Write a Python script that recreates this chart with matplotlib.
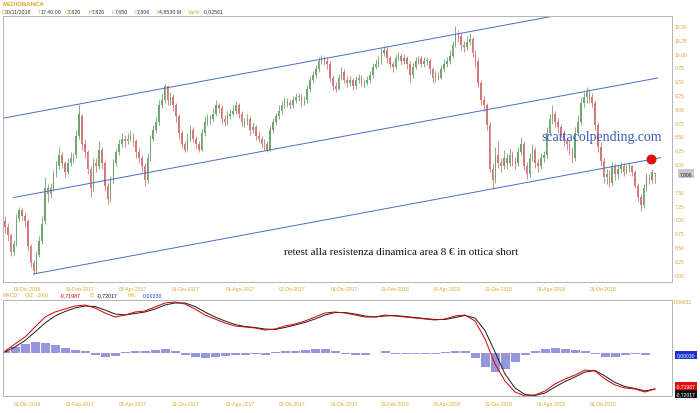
import matplotlib
matplotlib.use("Agg")
import matplotlib.pyplot as plt
import numpy as np

# candles (roughly one every 2-3 sessions), Mediobanca Nov 2016 - Nov 2018
opens = [6.95, 6.85, 6.70, 6.40, 6.55, 7.00, 7.15, 7.05, 6.95, 6.50,
         6.20, 6.05, 6.35, 6.60, 6.95, 7.55, 7.45, 7.55, 7.80,
         7.95, 8.15, 8.00, 7.85, 8.00, 8.10, 8.15, 8.50, 8.85,
         8.35, 8.20, 7.90, 7.55, 8.00, 7.95, 8.25, 8.00, 7.60, 7.35,
         7.70, 8.00, 8.20, 8.35, 8.45, 8.40, 8.45, 8.50, 8.40, 8.20,
         8.10, 7.95, 7.70, 8.10, 8.45, 8.60, 8.75, 9.05, 9.15, 9.40,
         9.15, 9.20, 9.05, 8.85, 8.55, 8.35, 8.25, 8.45, 8.60, 8.45,
         8.35, 8.25, 8.55, 8.75, 8.80, 8.80, 8.90, 9.05, 9.00, 8.80, 8.75,
         8.85, 8.90, 8.95, 9.05, 8.90, 8.75, 8.75, 8.80, 8.60, 8.65, 8.50,
         8.45, 8.35, 8.35, 8.25, 8.60, 8.75, 8.85, 8.95, 9.05, 9.10,
         9.10, 9.05, 9.15, 9.20, 9.20, 9.10, 9.15, 9.35, 9.50, 9.60, 9.70,
         9.85, 9.90, 9.85, 9.80, 9.55, 9.40, 9.35, 9.55, 9.65, 9.50,
         9.45, 9.50, 9.40, 9.50, 9.55, 9.45, 9.45, 9.50, 9.60, 9.75, 9.80,
         9.85, 10.00, 10.05, 9.90, 9.80, 9.75, 9.90, 9.95, 9.85, 9.90,
         9.80, 9.60, 9.75, 9.85, 9.90, 9.80, 9.85, 9.85, 9.70, 9.55,
         9.60, 9.55, 9.70, 9.80, 9.85, 9.95, 10.15, 10.35, 10.30, 10.15,
         10.10, 10.20, 10.25, 10.00, 9.85, 9.45, 9.15, 9.05, 8.70, 7.90,
         7.70, 8.15, 8.00, 7.95, 8.10, 8.00, 8.15, 8.05, 8.00, 8.20,
         8.35, 7.95, 7.80, 8.10, 8.25, 8.00, 7.95, 8.10, 8.15, 8.55,
         8.80, 8.90, 8.75, 8.65, 8.55, 8.40, 8.35, 8.25, 8.10, 8.55,
         8.75, 9.10, 9.20, 9.30, 9.20, 9.10, 8.70, 8.30, 8.05, 7.75,
         7.80, 7.65, 7.95, 7.80, 7.90, 7.95, 7.85, 7.90, 7.95, 7.85,
         7.60, 7.40, 7.25, 7.55, 7.75, 7.70, 7.82]
highs = [7.05, 6.92, 6.75, 6.62, 7.08, 7.22, 7.20, 7.12, 7.00, 6.55,
         6.25, 6.42, 6.68, 7.05, 7.75, 7.62, 7.65, 7.88, 8.05,
         8.30, 8.20, 8.05, 8.10, 8.20, 8.18, 8.60, 9.06, 8.90,
         8.45, 8.25, 7.95, 8.10, 8.10, 8.40, 8.30, 8.05, 7.65, 7.78,
         8.08, 8.28, 8.45, 8.55, 8.52, 8.55, 8.58, 8.55, 8.45, 8.28,
         8.15, 8.00, 8.18, 8.52, 8.70, 8.85, 9.15, 9.25, 9.44, 9.42,
         9.30, 9.25, 9.10, 8.90, 8.60, 8.40, 8.55, 8.70, 8.65, 8.50,
         8.40, 8.62, 8.85, 8.90, 8.88, 9.00, 9.15, 9.10, 9.05, 8.88, 8.95,
         8.98, 9.05, 9.12, 9.10, 8.95, 8.82, 8.90, 8.85, 8.75, 8.70, 8.58,
         8.50, 8.45, 8.40, 8.68, 8.82, 8.92, 9.05, 9.12, 9.20, 9.18,
         9.15, 9.22, 9.28, 9.27, 9.25, 9.22, 9.42, 9.58, 9.68, 9.78, 9.92,
         9.96, 9.95, 9.92, 9.85, 9.60, 9.48, 9.62, 9.75, 9.70, 9.58,
         9.58, 9.55, 9.58, 9.62, 9.60, 9.52, 9.58, 9.68, 9.82, 9.88, 9.95,
         10.08, 10.12, 10.10, 9.95, 9.85, 9.98, 10.02, 10.00, 9.98, 9.95,
         9.85, 9.82, 9.92, 9.95, 9.95, 9.92, 9.92, 9.90, 9.75, 9.68,
         9.65, 9.78, 9.88, 9.92, 10.05, 10.22, 10.48, 10.42, 10.35, 10.22,
         10.30, 10.35, 10.28, 10.05, 9.90, 9.50, 9.22, 9.10, 8.75, 8.00,
         8.30, 8.40, 8.10, 8.25, 8.18, 8.28, 8.22, 8.12, 8.30, 8.48,
         8.40, 8.02, 8.18, 8.35, 8.30, 8.08, 8.18, 8.22, 8.65, 8.90,
         9.05, 8.95, 8.82, 8.72, 8.60, 8.48, 8.42, 8.30, 8.65, 8.88,
         9.20, 9.30, 9.38, 9.35, 9.28, 9.15, 8.75, 8.38, 8.10, 7.90,
         7.88, 8.02, 8.00, 7.98, 8.02, 8.00, 7.98, 8.00, 7.98, 7.88,
         7.65, 7.45, 7.62, 7.82, 7.80, 7.90, 7.826]
lows = [6.75, 6.60, 6.32, 6.35, 6.50, 6.95, 6.98, 6.85, 6.42, 6.12,
        6.00, 6.02, 6.30, 6.55, 6.90, 7.30, 7.38, 7.50, 7.75,
        7.90, 7.92, 7.75, 7.80, 7.95, 8.00, 8.10, 8.45, 8.25,
        8.10, 7.80, 7.40, 7.50, 7.85, 7.90, 7.90, 7.50, 7.27, 7.30,
        7.65, 7.95, 8.15, 8.30, 8.30, 8.35, 8.40, 8.32, 8.10, 8.00,
        7.85, 7.60, 7.65, 8.05, 8.40, 8.55, 8.70, 9.00, 9.10, 9.05,
        9.05, 8.95, 8.75, 8.45, 8.28, 8.20, 8.22, 8.40, 8.38, 8.28,
        8.20, 8.22, 8.50, 8.70, 8.72, 8.75, 8.85, 8.92, 8.72, 8.68, 8.70,
        8.80, 8.85, 8.90, 8.82, 8.68, 8.66, 8.70, 8.52, 8.55, 8.42, 8.38,
        8.28, 8.25, 8.20, 8.22, 8.55, 8.70, 8.80, 8.90, 9.00, 9.02,
        8.98, 9.00, 9.10, 9.12, 9.02, 9.05, 9.10, 9.30, 9.45, 9.55, 9.65,
        9.80, 9.78, 9.70, 9.48, 9.32, 9.30, 9.32, 9.50, 9.45, 9.38,
        9.40, 9.32, 9.35, 9.45, 9.40, 9.38, 9.42, 9.45, 9.55, 9.70, 9.75,
        9.80, 9.95, 9.82, 9.72, 9.65, 9.70, 9.85, 9.78, 9.80, 9.70,
        9.45, 9.55, 9.70, 9.80, 9.75, 9.75, 9.78, 9.62, 9.45, 9.48,
        9.50, 9.52, 9.65, 9.75, 9.80, 9.90, 10.10, 10.20, 10.05, 10.02,
        10.05, 10.15, 9.92, 9.75, 9.38, 9.05, 8.95, 8.60, 7.85, 7.54,
        7.65, 7.92, 7.85, 7.90, 7.90, 7.95, 7.95, 7.90, 7.95, 8.15,
        7.88, 7.72, 7.75, 8.05, 7.92, 7.85, 7.90, 8.02, 8.10, 8.50,
        8.72, 8.65, 8.55, 8.48, 8.32, 8.25, 8.15, 8.00, 8.05, 8.50,
        8.70, 9.02, 9.10, 9.10, 9.02, 8.60, 8.20, 7.95, 7.65, 7.62,
        7.58, 7.60, 7.70, 7.72, 7.82, 7.78, 7.80, 7.85, 7.78, 7.55,
        7.32, 7.14, 7.20, 7.50, 7.62, 7.65, 7.65]
closes = [6.85, 6.70, 6.40, 6.55, 7.00, 7.15, 7.05, 6.95, 6.50, 6.20,
          6.05, 6.35, 6.60, 6.90, 7.55, 7.45, 7.55, 7.80, 7.95,
          8.15, 8.00, 7.85, 8.00, 8.10, 8.10, 8.50, 8.90, 8.35,
          8.20, 7.90, 7.55, 8.00, 7.95, 8.25, 8.00, 7.60, 7.35, 7.70,
          8.00, 8.20, 8.35, 8.45, 8.40, 8.45, 8.50, 8.40, 8.20, 8.10,
          7.95, 7.70, 8.10, 8.45, 8.60, 8.75, 9.05, 9.15, 9.40, 9.15,
          9.20, 9.05, 8.85, 8.55, 8.35, 8.25, 8.45, 8.60, 8.45, 8.35,
          8.25, 8.55, 8.75, 8.80, 8.80, 8.90, 9.05, 9.00, 8.80, 8.75, 8.85,
          8.90, 8.95, 9.05, 8.90, 8.75, 8.75, 8.80, 8.60, 8.65, 8.50, 8.45,
          8.35, 8.35, 8.25, 8.60, 8.75, 8.85, 8.95, 9.05, 9.10, 9.10,
          9.05, 9.15, 9.20, 9.20, 9.10, 9.15, 9.35, 9.50, 9.60, 9.70, 9.85,
          9.90, 9.85, 9.80, 9.55, 9.40, 9.35, 9.55, 9.65, 9.50, 9.45,
          9.50, 9.40, 9.50, 9.55, 9.45, 9.45, 9.50, 9.60, 9.75, 9.80, 9.85,
          10.00, 10.05, 9.90, 9.80, 9.75, 9.90, 9.95, 9.85, 9.90, 9.80,
          9.60, 9.75, 9.85, 9.90, 9.80, 9.85, 9.85, 9.70, 9.55, 9.60,
          9.55, 9.70, 9.80, 9.85, 9.95, 10.15, 10.35, 10.30, 10.15, 10.10,
          10.20, 10.25, 10.00, 9.85, 9.45, 9.15, 9.05, 8.70, 7.90, 7.70,
          8.15, 8.00, 7.95, 8.10, 8.00, 8.15, 8.05, 8.00, 8.20, 8.35,
          7.95, 7.80, 8.10, 8.25, 8.00, 7.95, 8.10, 8.15, 8.55, 8.80,
          8.90, 8.75, 8.65, 8.55, 8.40, 8.35, 8.25, 8.10, 8.55, 8.75,
          9.10, 9.20, 9.30, 9.20, 9.10, 8.70, 8.30, 8.05, 7.75, 7.80,
          7.65, 7.95, 7.80, 7.90, 7.95, 7.85, 7.90, 7.95, 7.85, 7.60,
          7.40, 7.25, 7.55, 7.75, 7.70, 7.85, 7.806]

# MACD (32, 200), sampled evenly across the same period
macd = [0.04, 0.18, 0.32, 0.52, 0.72, 0.82, 0.88, 0.94, 0.96, 0.90,
        0.80, 0.72, 0.76, 0.82, 0.84, 0.92, 1.00, 1.02, 0.98, 0.88,
        0.76, 0.68, 0.60, 0.54, 0.52, 0.50, 0.46, 0.48, 0.54, 0.58,
        0.64, 0.72, 0.80, 0.82, 0.80, 0.76, 0.72, 0.72, 0.76, 0.74,
        0.72, 0.70, 0.68, 0.66, 0.68, 0.74, 0.76, 0.64, 0.28, -0.22,
        -0.56, -0.78, -0.86, -0.84, -0.76, -0.62, -0.52, -0.44, -0.34, -0.36,
        -0.52, -0.64, -0.70, -0.72, -0.78, -0.72]
signal = [0.02, 0.12, 0.25, 0.42, 0.60, 0.74, 0.83, 0.90, 0.94, 0.93,
          0.86, 0.78, 0.76, 0.79, 0.82, 0.88, 0.96, 1.00, 1.00, 0.93,
          0.82, 0.72, 0.64, 0.57, 0.53, 0.51, 0.48, 0.47, 0.51, 0.56,
          0.61, 0.68, 0.76, 0.81, 0.81, 0.78, 0.74, 0.72, 0.74, 0.75,
          0.73, 0.71, 0.69, 0.67, 0.67, 0.71, 0.75, 0.70, 0.45, 0.02,
          -0.42, -0.70, -0.83, -0.85, -0.80, -0.68, -0.57, -0.48, -0.38, -0.35,
          -0.46, -0.59, -0.67, -0.71, -0.76, -0.72]
hist = [0.002, 0.008, 0.012, 0.014, 0.013, 0.010, 0.006, 0.004, 0.002, -0.003,
        -0.005, -0.004, 0.001, 0.003, 0.002, 0.004, 0.005, 0.003, -0.002, -0.005,
        -0.006, -0.005, -0.004, -0.003, -0.002, -0.001, -0.002, 0.001, 0.003, 0.003,
        0.004, 0.005, 0.005, 0.002, -0.001, -0.002, -0.002, 0.000, 0.002, -0.001,
        -0.001, -0.001, -0.001, -0.001, 0.001, 0.003, 0.002, -0.006, -0.018, -0.024,
        -0.020, -0.012, -0.003, 0.002, 0.005, 0.006, 0.005, 0.004, 0.003, -0.001,
        -0.005, -0.005, -0.003, -0.001, -0.002, 0.0003]

date_labels = ['01-Dic-2016', '01-Feb-2017', '03-Apr-2017', '01-Giu-2017',
               '01-Ago-2017', '02-Ott-2017', '01-Dic-2017', '01-Feb-2018',
               '03-Apr-2018', '01-Giu-2018', '01-Ago-2018', '01-Ott-2018']
date_pos = [7.7, 26.3, 44.9, 63.5, 82.4, 100.7, 118.9, 136.8, 155.0, 173.3, 191.5, 209.8]

# trend channel: anchor candles and prices
chan_lower = ([10, 230], [6.00, 8.104])
chan_middle = ([3, 229], [7.383, 9.545])
chan_upper = ([-1, 193], [8.815, 10.67])
dot = (226.6, 8.072)

W, H = 700, 414
GOLD = '#d9a62e'
GRID = '#b4b4b4'
UI = ['Liberation Sans', 'DejaVu Sans']
SERIF = ['Liberation Serif', 'DejaVu Serif']


def fx(x):
    return x / W


def fy(y):
    return 1 - y / H


o = np.array(opens)
h = np.array(highs)
l = np.array(lows)
c = np.array(closes)
n = len(c)
x = np.arange(n)
step = 650 / (n - 1)  # pixels per candle

fig = plt.figure(figsize=(7, 4.14), dpi=100)
ax = fig.add_axes([fx(3), fy(283), fx(669), 266 / H])
ax2 = fig.add_axes([fx(3), fy(397), fx(669), 96 / H])

xlim = (-2 / step, 667 / step)

# --- price panel ---
up = c >= o
cols = np.where(up, '#6fa56f', '#d27878')
ax.vlines(x, l, h, colors=cols, lw=0.6)
ax.bar(x, np.maximum(np.abs(c - o), 0.012), bottom=np.minimum(o, c),
       width=0.55, color=cols, linewidth=0)

for xs, ys in (chan_lower, chan_middle, chan_upper):
    ax.plot(xs, ys, color='#4a6cc9', lw=0.7)
ax.scatter([dot[0]], [dot[1]], s=38, color='#e0120f', zorder=5)

ax.set_xlim(*xlim)
ax.set_ylim(5.855, 10.666)
ax.set_xticks([])
ticks = [v for v in np.arange(6.0, 10.51, 0.25) if abs(v - 7.75) > 0.01]
ax.yaxis.tick_right()
ax.set_yticks(ticks)
ax.set_yticklabels([f'{v:.2f}'.replace('.', ',') for v in ticks],
                   fontsize=3.6, color=GOLD, family=UI)
ax.tick_params(axis='y', length=0, pad=2)
for s in ax.spines.values():
    s.set_color(GRID)
    s.set_linewidth(0.7)

fig.text(fx(401), fy(253), 'retest alla resistenza dinamica area 8 \u20ac in ottica short',
         fontsize=8, family=SERIF, color='#111111', ha='center', va='center')
fig.text(fx(541), fy(138), 'scattacolpending.com', fontsize=10, family=SERIF,
         color='#3b5bb8', ha='left', va='center')

# --- MACD panel ---
mx = np.linspace(0, n - 1, len(macd))
hax = ax2.twinx()
hax.bar(mx, hist, width=(mx[1] - mx[0]) * 0.9, color='#9596dc', linewidth=0)
hax.set_ylim(-0.0554, 0.06831)
hax.set_yticks([])
ax2.plot(mx, signal, color='#1a1a1a', lw=0.7, zorder=3)
ax2.plot(mx, macd, color='#d40000', lw=0.7, zorder=4)
ax2.set_zorder(hax.get_zorder() + 1)
ax2.patch.set_visible(False)
ax2.set_xlim(*xlim)
hax.set_xlim(*xlim)
ax2.set_ylim(-0.86, 1.06)
ax2.set_xticks([])
ax2.set_yticks([])
for a in (ax2, hax):
    for s in a.spines.values():
        s.set_color(GRID)
        s.set_linewidth(0.7)

# date labels under each panel
for pos, lab in zip(date_pos, date_labels):
    xp = 5 + pos * step
    fig.text(fx(xp), fy(290), lab, fontsize=3.6, color=GOLD, family=UI,
             ha='center', va='center')
    fig.text(fx(xp), fy(405), lab, fontsize=3.6, color=GOLD, family=UI,
             ha='center', va='center')

# header
fig.text(fx(3), fy(5), 'MEDIOBANCA', fontsize=4.4, color=GOLD, family=UI,
         fontweight='bold', va='center')
header = [(2, 'D', GOLD), (5, '30/11/2018', '#333333'), (38, 'T', GOLD),
          (41, '17.40.00', '#333333'), (65, 'O', GOLD), (68, '7,820', '#333333'),
          (89, 'H', GOLD), (92, '7,826', '#333333'), (112, 'L', GOLD),
          (115, '7,650', '#333333'), (134, 'C', GOLD), (137, '7,806', '#333333'),
          (156, 'V', GOLD), (159, '4,8530 M', '#333333'), (188, 'Var%', GOLD),
          (203, '-0,02561', '#333333')]
for xp, t, col in header:
    fig.text(fx(xp), fy(12), t, fontsize=3.8, color=col, family=UI, va='center')

macd_head = [(3, 'MACD', GOLD), (25, '(32 , 200)', GOLD), (60, '-0,71987', '#d40000'),
             (90, 'S:', GOLD), (97, '-0,72017', '#111111'), (128, 'Hst:', GOLD),
             (143, '0,00030', '#2233bb')]
for xp, t, col in macd_head:
    fig.text(fx(xp), fy(296), t, fontsize=3.8, color=col, family=UI, va='center')

# right-hand value boxes
fig.text(fx(686), fy(174.5), '7,806', fontsize=3.6, color='#222222', family=UI,
         ha='center', va='center',
         bbox=dict(boxstyle='square,pad=0.35', fc='#c9c9c9', ec='none'))
fig.text(fx(674), fy(302), '0,06831', fontsize=3.6, color=GOLD, family=UI,
         ha='left', va='center')
for yp, t, bg in [(356, '0,00030', '#1f2fd0'), (386.5, '-0,71987', '#e01010'),
                  (394.5, '-0,72017', '#111111')]:
    fig.text(fx(686), fy(yp), t, fontsize=3.6, color='white', family=UI,
             ha='center', va='center',
             bbox=dict(boxstyle='square,pad=0.3', fc=bg, ec='none'))

fig.savefig('out.png', dpi=100)
